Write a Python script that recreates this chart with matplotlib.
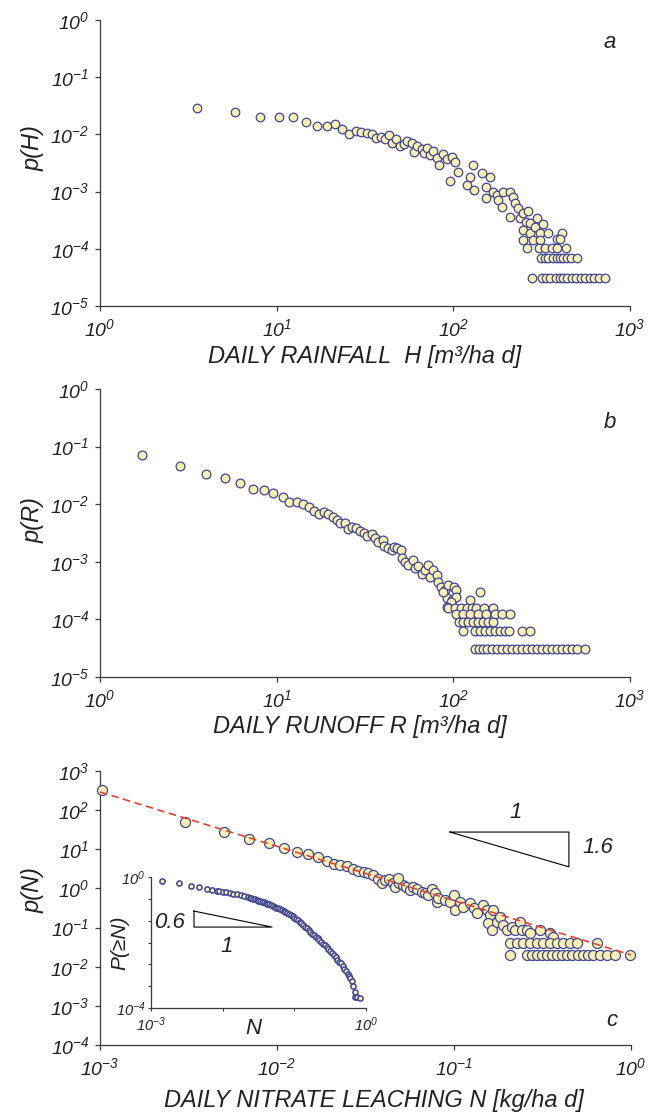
import math
import matplotlib
matplotlib.use("Agg")
import matplotlib.pyplot as plt
from matplotlib.ticker import FixedLocator, FuncFormatter, NullLocator

plt.rcParams['font.family'] = ['Liberation Sans', 'DejaVu Sans']
plt.rcParams['font.style'] = 'italic'
plt.rcParams['mathtext.fontset'] = 'custom'
plt.rcParams['mathtext.rm'] = 'Liberation Sans:italic'
plt.rcParams['mathtext.it'] = 'Liberation Sans:italic'
plt.rcParams['axes.unicode_minus'] = False

FILL = '#fbf0b0'
EDGE = '#3d4597'
AXIS = '#3a3a3a'
TEXT = '#222222'
FIT = '#e4432d'

# (a) daily rainfall H [m3/ha d] and its density p(H)
rain_H = [3.52, 5.8, 8.0, 10.3, 12.4, 14.7, 17.0, 19.2, 21.4, 23.4,
          25.6, 28.0, 30.0, 32.3, 34.5, 36.5, 38.8, 41.0, 43.0, 44.8,
          47.1, 49.9, 52.5, 54.4, 58.1, 59.8, 62.0, 66.1, 68.4, 70.6,
          73.8, 76.9, 80.5, 83.2, 87.1, 91.6, 95.7, 98.6, 102, 106,
          119, 131, 124, 130, 145, 161, 153, 154, 168, 176,
          180, 188, 192, 209, 217, 209, 223, 233, 238, 249,
          265, 258, 272, 249, 247, 260, 272, 283, 290, 296,
          309, 323, 309, 344, 306, 330, 360, 384, 410, 401,
          384, 432]
rain_p = [0.0286, 0.0249, 0.0204, 0.0200, 0.0204, 0.0163, 0.0142, 0.0142, 0.0154, 0.0123,
          0.0100, 0.0115, 0.0109, 0.0105, 0.0102, 0.00875, 0.0091, 0.0082, 0.0099, 0.00716,
          0.0083, 0.00635, 0.0067, 0.00776, 0.00716, 0.00486, 0.00627, 0.0055, 0.00479, 0.00571,
          0.00436, 0.00513, 0.00382, 0.00292, 0.00454, 0.00367, 0.00155, 0.00398, 0.00333, 0.00223,
          0.0013, 0.00107, 0.00182, 0.00292, 0.00209, 0.00182, 0.00076, 0.00122, 0.0010, 0.00087,
          0.00071, 0.00054, 0.0010, 0.0010, 0.00081, 0.00036, 0.00062, 0.00051, 0.00034, 0.00042,
          0.00045, 0.0003, 0.00028, 0.00021, 0.000143, 0.000102, 0.000186, 0.000143, 0.000243, 0.00034,
          0.000186, 0.000272, 0.000143, 0.000186, 0.000102, 0.000102, 0.000102, 0.000147, 0.000186, 0.000147,
          0.000102, 0.000102]
# tail: days counted twice and once
rain_H2 = [312, 330, 344, 365, 384, 401, 419, 442, 461, 499]
rain_p2 = [6.8e-5] * len(rain_H2)
rain_H1 = [280, 316, 334, 352, 381, 401, 419, 442, 468, 494,
           525, 558, 593, 627, 670, 724]
rain_p1 = [3.05e-5] * len(rain_H1)

# (b) daily runoff R [m3/ha d] and p(R)
runoff_R = [1.72, 2.84, 3.98, 5.12, 6.2, 7.37, 8.51, 9.57, 10.8, 11.8,
            13.0, 14.1, 15.3, 16.3, 17.4, 18.5, 19.6, 20.9, 22.0, 22.8,
            24.4, 25.2, 26.6, 28.1, 29.6, 31.3, 32.6, 34.5, 36.0, 37.6,
            39.8, 40.6, 42.8, 44.8, 46.1, 47.8, 50.3, 50.9, 53.2, 55.6,
            58.9, 60.7, 63.3, 66.2, 69.1, 72.1, 73.8, 76.9, 80.5, 82.2,
            84.8, 89.6, 91.6, 93.5, 87.7, 97.7, 101, 104, 104, 96.6,
            91.6, 142, 124]
runoff_p = [0.0723, 0.046, 0.0334, 0.0282, 0.0231, 0.0184, 0.0177, 0.0159, 0.0135, 0.011,
            0.0109, 0.0101, 0.00905, 0.00762, 0.00676, 0.00724, 0.00668, 0.00607, 0.00532, 0.00478,
            0.00466, 0.00366, 0.00407, 0.00382, 0.00343, 0.00321, 0.00281, 0.00304, 0.00256, 0.00223,
            0.00239, 0.00188, 0.00171, 0.0016, 0.00183, 0.00171, 0.0016, 0.00115, 0.001, 0.00088,
            0.00107, 0.00077, 0.000845, 0.000607, 0.00072, 0.00088, 0.00055, 0.00072, 0.00059, 0.00045,
            0.00037, 0.00032, 0.000232, 0.000395, 0.0003, 0.000217, 0.00037, 0.00032, 0.000248, 0.000203,
            0.000166, 0.0003, 0.000217]
runoff_R5 = [93.5, 102, 111, 119, 127, 135, 149, 168]
runoff_R4 = [104, 114, 124, 138, 154, 172, 188, 209]
runoff_R3 = [107, 114, 121, 130, 138, 148, 158, 168]
runoff_R2 = [113, 133, 142, 151, 161, 172, 184, 196, 207, 244, 272]
runoff_R1 = [133, 140, 148, 156, 165, 176, 188, 200, 214, 228,
             244, 260, 277, 296, 316, 337, 360, 384, 410, 438,
             468, 502, 556]
runoff_levels = [0.000158, 0.000124, 9.1e-5, 6.2e-5, 3.06e-5]

# (c) daily nitrate leaching N [kg/ha d] and p(N)
nitrate_N = [0.00102, 0.00302, 0.00504, 0.00697, 0.00904, 0.011, 0.0129, 0.0150, 0.0171, 0.0191,
             0.021, 0.0227, 0.0248, 0.0268, 0.0288, 0.031, 0.0328, 0.035, 0.0373, 0.0391,
             0.0407, 0.0431, 0.0454, 0.0464, 0.0491, 0.0513, 0.0536, 0.0564, 0.0589, 0.0615,
             0.0656, 0.0685, 0.0716, 0.0748, 0.0781, 0.0805, 0.0484, 0.0815, 0.0889, 0.0949,
             0.1, 0.101, 0.108, 0.113, 0.123, 0.129, 0.134, 0.146, 0.153, 0.16,
             0.167, 0.156, 0.163, 0.174, 0.182, 0.19, 0.199, 0.212, 0.221, 0.236,
             0.241, 0.257, 0.269, 0.306, 0.348, 0.361, 0.64]
nitrate_p = [327, 50.7, 28.1, 18.0, 14.7, 10.6, 8.67, 7.44, 6.24, 5.01,
             4.2, 3.97, 3.67, 3.08, 2.84, 2.58, 2.43, 2.2, 1.71, 1.4,
             1.64, 1.71, 1.35, 1.11, 1.4, 1.22, 1.11, 0.912, 1.07, 0.95,
             0.824, 0.75, 0.679, 0.95, 0.75, 0.458, 1.82, 0.56, 0.506, 0.458,
             0.679, 0.281, 0.458, 0.341, 0.417, 0.31, 0.231, 0.377, 0.281, 0.209,
             0.281, 0.128, 0.0867, 0.141, 0.19, 0.116, 0.0867, 0.105, 0.0867, 0.141,
             0.0867, 0.0867, 0.0713, 0.0867, 0.0713, 0.0585, 0.041]
nitrate_N2 = [0.207, 0.226, 0.246, 0.269, 0.293, 0.319, 0.348, 0.38, 0.415, 0.452, 0.493]
nitrate_p2 = [0.0396] * len(nitrate_N2)
nitrate_N1 = [0.207, 0.257, 0.275, 0.293, 0.313, 0.334, 0.356, 0.38, 0.406, 0.434,
              0.462, 0.504, 0.538, 0.574, 0.612, 0.668, 0.73, 0.813, 0.986]
nitrate_p1 = [0.0199] * len(nitrate_N1)

# power-law fit p(N) ~ N^-1.4
fit_N = [1e-3, 1.0]
fit_p = [290, 0.02]

# inset: exceedance probability P(>=N)
exceed_N = [0.00141, 0.00246, 0.00358, 0.00472, 0.00598, 0.00717, 0.00826, 0.00891, 0.01, 0.01122,
            0.01259, 0.01413, 0.01585, 0.01778, 0.01995, 0.02239, 0.02371, 0.02512, 0.02661, 0.02818,
            0.02985, 0.03162, 0.0335, 0.03548, 0.03758, 0.03981, 0.04217, 0.04467, 0.04732, 0.05012,
            0.05309, 0.05623, 0.05957, 0.0631, 0.06683, 0.07079, 0.07499, 0.07943, 0.08414, 0.0891,
            0.09441, 0.1, 0.1059, 0.1122, 0.1189, 0.1259, 0.1334, 0.1413, 0.1496, 0.1585,
            0.1679, 0.1778, 0.1884, 0.1995, 0.2113, 0.2239, 0.2371, 0.2512, 0.2661, 0.2818,
            0.2985, 0.3162, 0.335, 0.3548, 0.3758, 0.3981, 0.4217, 0.4467, 0.4732, 0.5012,
            0.5309, 0.5623, 0.5821, 0.6026, 0.631, 0.6607, 0.6918, 0.7079, 0.7586, 0.8318]
exceed_P = [0.771, 0.643, 0.542, 0.484, 0.44, 0.409, 0.382, 0.368, 0.353, 0.341,
            0.324, 0.313, 0.296, 0.282, 0.263, 0.245, 0.234, 0.224, 0.216, 0.208,
            0.2, 0.191, 0.184, 0.176, 0.169, 0.161, 0.154, 0.147, 0.14, 0.132,
            0.125, 0.117, 0.111, 0.105, 0.0983, 0.0916, 0.0853, 0.0796, 0.0741, 0.0692,
            0.0635, 0.0579, 0.0533, 0.0486, 0.0438, 0.0394, 0.035, 0.0308, 0.0274, 0.0241,
            0.0214, 0.0188, 0.0169, 0.0152, 0.0135, 0.0119, 0.0106, 0.0093, 0.00828, 0.0073,
            0.00647, 0.0057, 0.00489, 0.00415, 0.00356, 0.00303, 0.00263, 0.00229, 0.00191, 0.00161,
            0.00133, 0.00109, 0.00095, 0.00082, 0.00067, 0.00047, 0.00031, 0.000217, 0.00021, 0.000207]


def pow10(v, pos):
    return r'$\mathdefault{10^{%d}}$' % round(math.log10(v))


def style_axes(ax, xdec, ydec, labelsize=14):
    ax.set_xscale('log')
    ax.set_yscale('log')
    ax.set_xlim(10.0 ** xdec[0], 10.0 ** xdec[-1])
    ax.set_ylim(10.0 ** ydec[0], 10.0 ** ydec[-1])
    ax.set_facecolor('none')
    for side in ('top', 'right'):
        ax.spines[side].set_visible(False)
    for side in ('left', 'bottom'):
        ax.spines[side].set_color(AXIS)
        ax.spines[side].set_linewidth(0.9)
    ax.xaxis.set_major_locator(FixedLocator([10.0 ** k for k in xdec]))
    ax.yaxis.set_major_locator(FixedLocator([10.0 ** k for k in ydec]))
    ax.xaxis.set_minor_locator(NullLocator())
    ax.yaxis.set_minor_locator(NullLocator())
    ax.xaxis.set_major_formatter(FuncFormatter(pow10))
    ax.yaxis.set_major_formatter(FuncFormatter(pow10))
    ax.tick_params(direction='out', length=3.5, width=0.9, color=AXIS,
                   labelsize=labelsize, labelcolor=TEXT)
    ax.tick_params(axis='x', pad=5)
    ax.tick_params(axis='y', pad=4)


def dots(ax, x, y, s, lw=0.9):
    ax.scatter(x, y, s=s, facecolor=FILL, edgecolor=EDGE, linewidths=lw,
               clip_on=False, zorder=3)


def labels(ax, xlabel, xpos, ylabel, ypos, letter, letter_pos):
    ax.set_xlabel(xlabel, fontsize=17, color=TEXT)
    ax.xaxis.label.set_verticalalignment('baseline')
    ax.xaxis.set_label_coords(*xpos)
    ax.set_ylabel(ylabel, fontsize=17, color=TEXT, va='center')
    ax.yaxis.set_label_coords(*ypos)
    ax.text(*letter_pos, letter, transform=ax.transAxes, fontsize=16,
            color=TEXT, ha='center', va='center')


fig = plt.figure(figsize=(6.58, 11.12), dpi=100)

ax_a = fig.add_axes([0.1520, 0.7248, 0.8055, 0.2572])
ax_b = fig.add_axes([0.1520, 0.3912, 0.8055, 0.2590])
ax_c = fig.add_axes([0.1520, 0.0603, 0.8070, 0.2464])
ax_in = fig.add_axes([0.2295, 0.0935, 0.3267, 0.1178])

# panel a
style_axes(ax_a, [0, 1, 2, 3], [-5, -4, -3, -2, -1, 0])
dots(ax_a, rain_H, rain_p, 38)
dots(ax_a, rain_H2, rain_p2, 38)
dots(ax_a, rain_H1, rain_p1, 38)
labels(ax_a, 'DAILY RAINFALL  H [m³/ha d]', (0.5, -0.199),
       'p(H)', (-0.126, 0.552), 'a', (0.962, 0.92))

# panel b
style_axes(ax_b, [0, 1, 2, 3], [-5, -4, -3, -2, -1, 0])
dots(ax_b, runoff_R, runoff_p, 40)
for xs, lev in zip([runoff_R5, runoff_R4, runoff_R3, runoff_R2, runoff_R1], runoff_levels):
    dots(ax_b, xs, [lev] * len(xs), 40)
labels(ax_b, 'DAILY RUNOFF R [m³/ha d]', (0.49, -0.194),
       'p(R)', (-0.126, 0.545), 'b', (0.962, 0.885))

# panel c
style_axes(ax_c, [-3, -2, -1, 0], [-4, -3, -2, -1, 0, 1, 2, 3])
dots(ax_c, nitrate_N, nitrate_p, 52)
dots(ax_c, nitrate_N2, nitrate_p2, 52)
dots(ax_c, nitrate_N1, nitrate_p1, 52)
ax_c.plot(fit_N, fit_p, color=FIT, lw=1.2, dashes=(4.5, 2.7), zorder=4)
labels(ax_c, 'DAILY NITRATE LEACHING N [kg/ha d]', (0.515, -0.226),
       'p(N)', (-0.126, 0.566), 'c', (0.964, 0.091))

# slope triangle
ax_c.plot([0.659, 0.883, 0.883, 0.659], [0.777, 0.777, 0.650, 0.777],
          transform=ax_c.transAxes, color='black', lw=0.8, zorder=2)
ax_c.text(0.782, 0.847, '1', transform=ax_c.transAxes, fontsize=16,
          color=TEXT, ha='center', va='center')
ax_c.text(0.938, 0.719, '1.6', transform=ax_c.transAxes, fontsize=16,
          color=TEXT, ha='center', va='center')

# inset
style_axes(ax_in, [-3, -2, -1, 0], [-4, 0], labelsize=10.5)
ax_in.yaxis.set_major_locator(FixedLocator([10.0 ** (-k * 2 / 3) for k in range(7)]))
ax_in.yaxis.set_major_formatter(FuncFormatter(
    lambda v, pos: pow10(v, pos) if pos in (0, 6) else ''))
ax_in.xaxis.set_major_formatter(FuncFormatter(
    lambda v, pos: pow10(v, pos) if pos in (0, 3) else ''))
ax_in.tick_params(length=2.5, width=0.8)
ax_in.tick_params(axis='y', pad=1.5)
ax_in.tick_params(axis='x', pad=3)
dots(ax_in, exceed_N, exceed_P, 14, lw=1.1)
ax_in.set_xlabel('N', fontsize=16, color=TEXT, va='center')
ax_in.xaxis.set_label_coords(0.474, -0.153)
ax_in.set_ylabel('P(≥N)', fontsize=15, color=TEXT, va='center')
ax_in.yaxis.set_label_coords(-0.144, 0.496)
ax_in.plot([0.2, 0.2, 0.563, 0.2], [0.74, 0.618, 0.618, 0.74],
           transform=ax_in.transAxes, color='black', lw=0.8)
ax_in.text(0.088, 0.656, '0.6', transform=ax_in.transAxes, fontsize=16,
           color=TEXT, ha='center', va='center')
ax_in.text(0.353, 0.466, '1', transform=ax_in.transAxes, fontsize=16,
           color=TEXT, ha='center', va='center')

fig.savefig('out.png', dpi=100)
